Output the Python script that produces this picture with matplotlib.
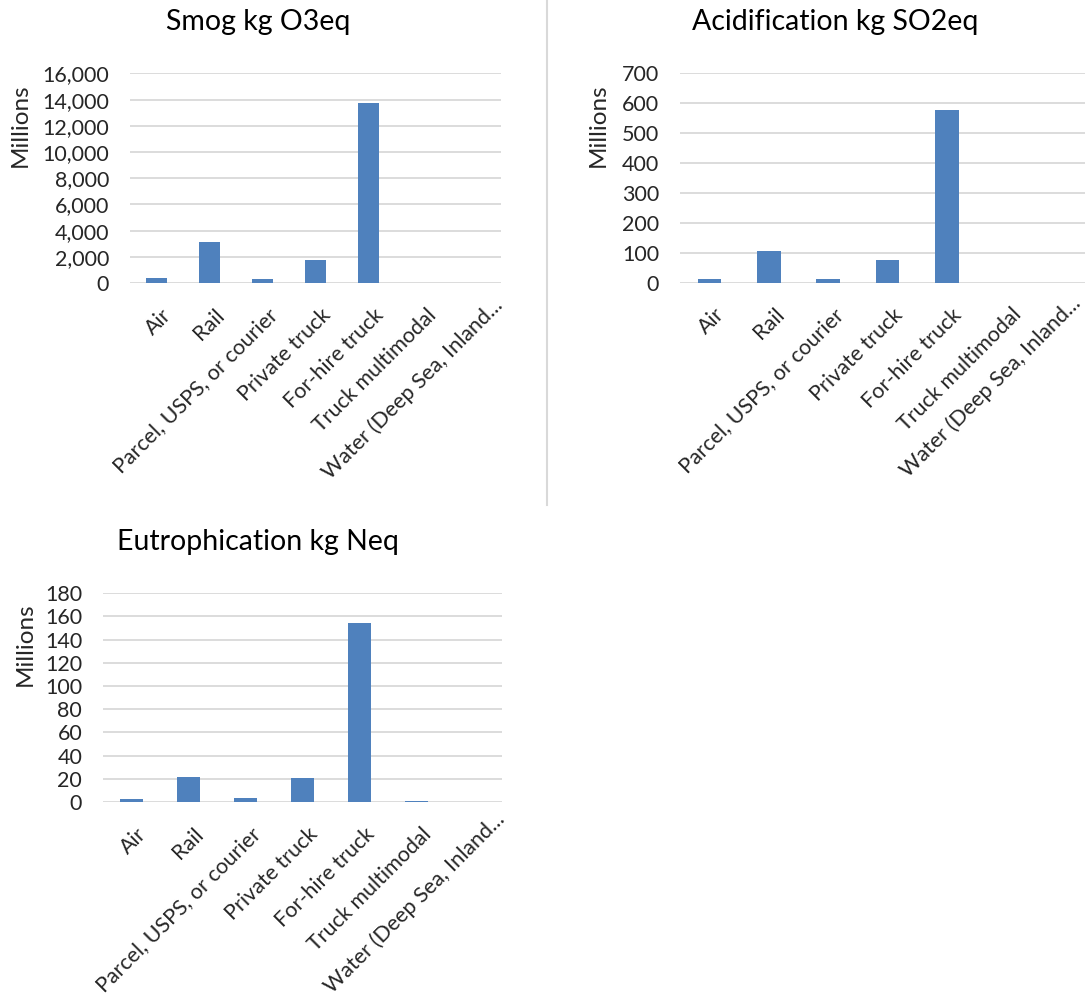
import matplotlib
matplotlib.use("Agg")
import matplotlib.pyplot as plt
import matplotlib.transforms as mtrans
from matplotlib.ticker import FuncFormatter
from matplotlib.lines import Line2D

plt.rcParams['font.family'] = ['Lato', 'DejaVu Sans']

categories = ["Air", "Rail", "Parcel, USPS, or courier", "Private truck",
              "For-hire truck", "Truck multimodal", "Water (Deep Sea, Inland..."]

smog = [400, 3150, 330, 1750, 13750, 0, 0]
acid = [14, 107, 11, 75, 576, 0, 0]
eutro = [2.6, 21.8, 3.7, 20.4, 154.5, 1.2, 0]

bar_color = "#4f81bd"
grid_color = "#d9d9d9"
text_color = "#262626"


def draw_panel(fig, rect, values, title, ymax, step, fmt, title_xy, ylab_xy,
               last_shift=(18, 2)):
    ax = fig.add_axes(rect)
    x = list(range(len(categories)))
    ax.bar(x, values, width=0.4, color=bar_color, zorder=3)
    ax.set_xlim(-0.5, len(categories) - 0.5)
    ax.set_ylim(0, ymax)
    ax.set_yticks(range(0, ymax + 1, step))
    ax.yaxis.set_major_formatter(FuncFormatter(fmt))
    ax.grid(axis="y", color=grid_color, linewidth=1.3, zorder=0)
    for s in ["top", "right", "left", "bottom"]:
        ax.spines[s].set_visible(False)
    ax.tick_params(axis="both", length=0, labelsize=15.5, colors=text_color)
    ax.tick_params(axis="y", pad=15)
    ax.set_xticks(x)
    ax.set_xticklabels(categories, rotation=45, ha="right", va="top",
                       rotation_mode="anchor")
    ax.tick_params(axis="x", pad=10)
    # nudge the slanted labels a little right and down, like Excel does
    labels = ax.get_xticklabels()
    for i, lab in enumerate(labels):
        dx, dy = (5, -8) if i < len(labels) - 1 else last_shift
        shift = mtrans.ScaledTranslation(dx / 100, dy / 100, fig.dpi_scale_trans)
        lab.set_transform(lab.get_transform() + shift)
    ax.set_ylabel("Millions", fontsize=17.5, color=text_color, va="center")
    ax.yaxis.set_label_coords(*ylab_xy)
    fig.text(title_xy[0], title_xy[1], title, fontsize=20.5, color="black",
             ha="center", va="center")
    return ax


fig = plt.figure(figsize=(10.85, 10), dpi=100)

W, H = 1085.0, 1000.0

draw_panel(fig, [130 / W, 1 - 283 / H, 371 / W, 209.5 / H], smog,
           "Smog kg O3eq", 16000, 2000, lambda v, p: f"{int(v):,}",
           (258 / W, 1 - 22 / H), (-0.296, 0.754))

draw_panel(fig, [680 / W, 1 - 282.7 / H, 415 / W, 209.4 / H], acid,
           "Acidification kg SO2eq", 700, 100, lambda v, p: f"{int(v)}",
           (835 / W, 1 - 22 / H), (-0.198, 0.754), last_shift=(5, 4))

draw_panel(fig, [103 / W, 1 - 802 / H, 399 / W, 208.7 / H], eutro,
           "Eutrophication kg Neq", 180, 20, lambda v, p: f"{int(v)}",
           (258 / W, 1 - 542 / H), (-0.195, 0.754), last_shift=(21, 7))

# thin separator between the two top charts
fig.add_artist(Line2D([547 / W, 547 / W], [1.0, 1 - 505 / H],
                      color="#d9d9d9", linewidth=1.5))

fig.savefig("out.png", dpi=100)
